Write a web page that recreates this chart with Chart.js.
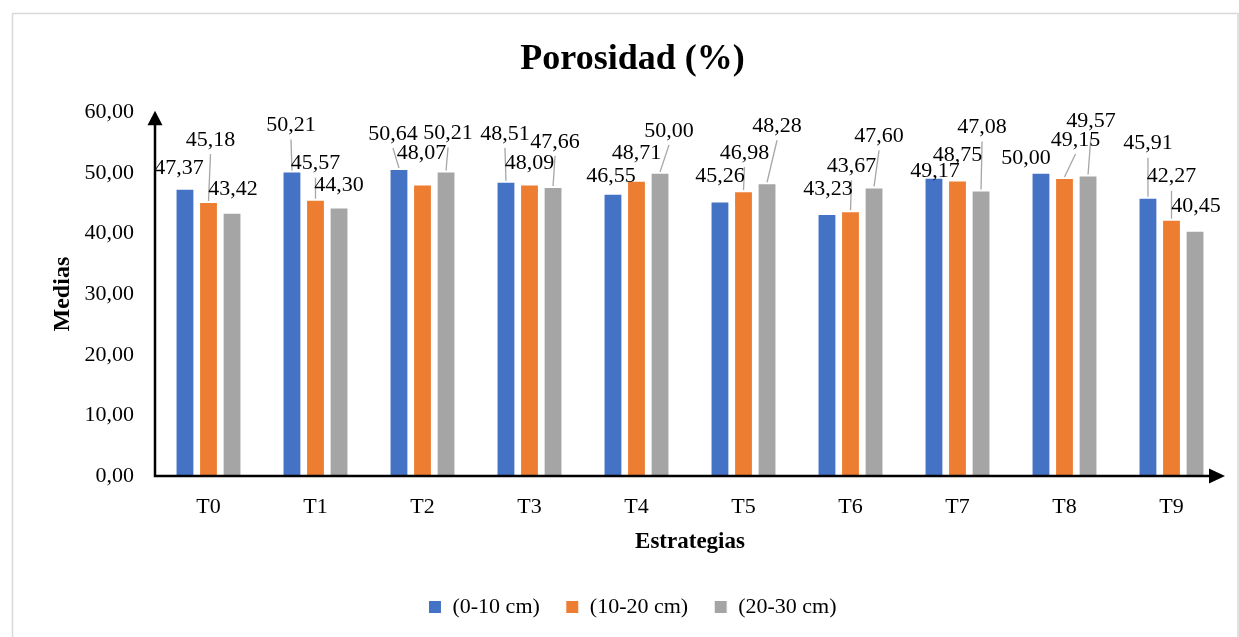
<!DOCTYPE html>
<html>
<head>
<meta charset="utf-8">
<script src="https://cdn.jsdelivr.net/npm/chart.js@4.4.1/dist/chart.umd.min.js"></script>
<style>
  html, body { margin: 0; padding: 0; background: #ffffff; }
  #wrap { position: relative; width: 1239px; height: 637px; }
</style>
</head>
<body>
<div id="wrap"><canvas id="c" width="1239" height="637"></canvas></div>
<script>
// ---- Data ----
const categories = ['T0', 'T1', 'T2', 'T3', 'T4', 'T5', 'T6', 'T7', 'T8', 'T9'];
const seriesLabels = ['(0-10 cm)', '(10-20 cm)', '(20-30 cm)'];
const depth0to10 = [47.37, 50.21, 50.64, 48.51, 46.55, 45.26, 43.23, 49.17, 50.00, 45.91];
const depth10to20 = [45.18, 45.57, 48.07, 48.09, 48.71, 46.98, 43.67, 48.75, 49.15, 42.27];
const depth20to30 = [43.42, 44.30, 50.21, 47.66, 50.00, 48.28, 47.60, 47.08, 49.57, 40.45];
const yTickValues = [0, 10, 20, 30, 40, 50, 60];

// ---- Layout of the data labels (offset of label centre from bar top, px) ----
const labelOffsets = [
  [[-6,-21],[-1,-46],[-6,-35],[-1,-48],[-2,-18],[0,-25],[1,-25],[1,-7],[-15,-15],[0,-54]],
  [[2,-62],[0,-36],[-1,-31],[0,-21],[0,-27],[1,-38],[1,-45],[0,-25],[11,-38],[0,-43]],
  [[1,-24],[0,-22],[2,-38],[2,-45],[9,-42],[10,-57],[5,-51],[1,-63],[3,-54],[1,-25]]
];
const colors = ['#4472C4', '#ED7D31', '#A5A5A5'];
const FONT = "'Liberation Serif', 'Times New Roman', serif";

function fmt(v) { return v.toFixed(2).replace('.', ','); }

const framePlugin = {
  id: 'frame',
  beforeDraw(chart) {
    const ctx = chart.ctx;
    ctx.save();
    ctx.fillStyle = '#ffffff';
    ctx.fillRect(0, 0, chart.width, chart.height);
    ctx.strokeStyle = '#D9D9D9';
    ctx.lineWidth = 1.5;
    ctx.strokeRect(12.5, 13.5, 1225.5, 640);
    ctx.restore();
  }
};

const axesPlugin = {
  id: 'arrowAxes',
  afterDatasetsDraw(chart) {
    const ctx = chart.ctx;
    const a = chart.chartArea;
    ctx.save();
    ctx.strokeStyle = '#000';
    ctx.fillStyle = '#000';
    ctx.lineWidth = 2.5;
    ctx.beginPath();
    ctx.moveTo(a.left, a.top + 12);
    ctx.lineTo(a.left, a.bottom);
    ctx.lineTo(a.right - 15, a.bottom);
    ctx.stroke();
    // y arrow
    ctx.beginPath();
    ctx.moveTo(a.left, a.top - 1.5);
    ctx.lineTo(a.left - 7.5, a.top + 13);
    ctx.lineTo(a.left + 7.5, a.top + 13);
    ctx.closePath();
    ctx.fill();
    // x arrow
    ctx.beginPath();
    ctx.moveTo(a.right, a.bottom);
    ctx.lineTo(a.right - 16, a.bottom - 7.5);
    ctx.lineTo(a.right - 16, a.bottom + 7.5);
    ctx.closePath();
    ctx.fill();
    ctx.restore();
  }
};

const labelPlugin = {
  id: 'barLabels',
  afterDatasetsDraw(chart) {
    const ctx = chart.ctx;
    ctx.save();
    // leader lines first
    ctx.strokeStyle = '#A6A6A6';
    ctx.lineWidth = 1.3;
    chart.data.datasets.forEach((ds, di) => {
      const meta = chart.getDatasetMeta(di);
      meta.data.forEach((bar, i) => {
        const [dx, dy] = labelOffsets[di][i];
        if (dy <= -33) {
          const cx = bar.x + dx, cy = bar.y + dy;
          ctx.beginPath();
          ctx.moveTo(cx, cy + 14);
          ctx.lineTo(bar.x, bar.y - 1);
          ctx.stroke();
        }
      });
    });
    ctx.fillStyle = '#000';
    ctx.font = "22px " + FONT;
    ctx.textAlign = 'center';
    ctx.textBaseline = 'middle';
    chart.data.datasets.forEach((ds, di) => {
      const meta = chart.getDatasetMeta(di);
      meta.data.forEach((bar, i) => {
        const [dx, dy] = labelOffsets[di][i];
        ctx.fillText(fmt(ds.data[i]), bar.x + dx, bar.y + dy);
      });
    });
    ctx.restore();
  }
};

const seriesData = [depth0to10, depth10to20, depth20to30];

new Chart(document.getElementById('c'), {
  type: 'bar',
  data: {
    labels: categories,
    datasets: seriesData.map((d, i) => ({
      label: seriesLabels[i],
      data: d,
      backgroundColor: colors[i],
      borderColor: '#ffffff',
      borderWidth: 1,
      categoryPercentage: 0.66,
      barPercentage: 0.8
    }))
  },
  options: {
    responsive: false,
    animation: false,
    layout: { padding: { left: 40, right: 14, top: 0, bottom: 9 } },
    plugins: {
      title: {
        display: true,
        text: 'Porosidad (%)',
        color: '#000',
        font: { family: FONT, size: 36, weight: 'bold' },
        padding: { top: 38, bottom: 31 }
      },
      legend: {
        position: 'bottom',
        labels: {
          color: '#000',
          font: { family: FONT, size: 22 },
          boxWidth: 13,
          boxHeight: 13,
          padding: 26
        }
      },
      tooltip: { enabled: false }
    },
    scales: {
      x: {
        grid: { display: false, drawTicks: false },
        border: { display: false },
        ticks: { color: '#000', font: { family: FONT, size: 22 }, padding: 18 },
        title: {
          display: true,
          text: 'Estrategias',
          color: '#000',
          font: { family: FONT, size: 23, weight: 'bold' },
          padding: { top: 0, bottom: 14 }
        },
        afterFit(s) { s.height = 94; }
      },
      y: {
        min: 0,
        max: 60,
        grid: { display: false, drawTicks: false },
        border: { display: false },
        afterBuildTicks(s) { s.ticks = yTickValues.map(v => ({ value: v })); },
        ticks: {
          color: '#000',
          font: { family: FONT, size: 22 },
          padding: 21,
          callback: (v) => fmt(v)
        },
        title: {
          display: true,
          text: 'Medias',
          color: '#000',
          font: { family: FONT, size: 24, weight: 'bold' },
          padding: { top: 8, bottom: 0 }
        },
        afterFit(s) { s.width = 115; }
      }
    }
  },
  plugins: [framePlugin, axesPlugin, labelPlugin]
});
</script>
</body>
</html>
